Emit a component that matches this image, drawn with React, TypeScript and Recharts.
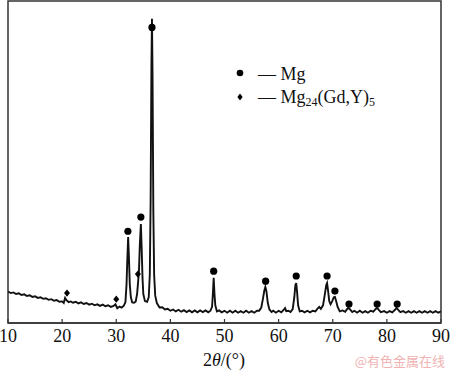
import { ComposedChart, Line, Scatter, XAxis, YAxis, ReferenceArea } from "recharts"

// diffraction angle (2θ, deg) and intensity (a.u.)
const twoTheta = [
  10, 10.5, 11, 11.5, 12, 12.5, 13, 13.5, 14, 14.5, 15, 15.5, 16, 16.5, 17, 17.5, 18, 18.5, 19, 19.5,
  20, 20.3, 20.55, 20.8, 21.2, 21.6, 22, 22.5, 23, 23.5, 24, 24.5, 25, 25.5, 26, 26.5, 27, 27.5, 28, 28.5,
  29, 29.5, 29.85, 30.2, 30.6, 31, 31.4, 31.7, 31.9, 32.05, 32.2, 32.35, 32.5, 32.7, 32.95, 33.3, 33.6, 33.85, 34.05, 34.2,
  34.35, 34.55, 34.7, 34.85, 35, 35.3, 35.7, 36, 36.2, 36.35, 36.5, 36.6, 36.7, 36.85, 37, 37.2, 37.5, 38, 38.5, 39,
  39.5, 40, 40.5, 41, 41.5, 42, 42.5, 43, 43.5, 44, 44.5, 45, 45.5, 46, 46.5, 47, 47.4, 47.7, 47.85, 48,
  48.15, 48.3, 48.6, 49, 49.5, 50, 50.5, 51, 51.5, 52, 52.5, 53, 53.5, 54, 54.5, 55, 55.5, 56, 56.4, 56.8,
  57.1, 57.35, 57.55, 57.75, 58, 58.3, 58.7, 59, 59.5, 60, 60.5, 61, 61.2, 61.4, 61.8, 62.2, 62.6, 62.9, 63.1, 63.25,
  63.4, 63.6, 63.9, 64.3, 64.8, 65.3, 65.8, 66.3, 66.8, 67.2, 67.5, 67.8, 68.2, 68.5, 68.8, 68.95, 69.1, 69.35, 69.6, 69.9,
  70.2, 70.4, 70.6, 70.9, 71.3, 71.8, 72.3, 72.6, 72.9, 73.2, 73.6, 74, 74.5, 75, 75.5, 76, 76.5, 77, 77.5, 77.9,
  78.2, 78.5, 78.9, 79.5, 80, 80.5, 81, 81.5, 81.8, 82.1, 82.5, 83, 83.5, 84, 84.5, 85, 85.5, 86, 86.5, 87,
  87.5, 88, 88.5, 89, 89.5, 90,
]
const counts = [
  98, 93, 95, 90, 92, 87, 89, 84, 86, 81, 83, 78, 80, 75, 77, 72, 74, 69, 71, 66,
  67, 62, 78, 71, 65, 67, 63, 66, 61, 64, 59, 62, 57, 60, 55, 58, 53, 57, 52, 55,
  50, 53, 58, 46, 51, 48, 54, 65, 120, 200, 267, 200, 120, 80, 64, 63, 67, 90, 130, 165,
  240, 307, 230, 140, 90, 68, 66, 80, 150, 380, 800, 945, 780, 350, 150, 85, 62, 48, 49, 42,
  44, 38, 42, 36, 41, 35, 40, 34, 39, 33, 39, 33, 39, 34, 39, 33, 38, 50, 90, 140,
  90, 55, 36, 39, 33, 38, 32, 38, 32, 38, 32, 37, 32, 38, 32, 37, 32, 38, 38, 48,
  75, 100, 112, 98, 62, 42, 34, 38, 32, 38, 33, 42, 46, 37, 38, 34, 43, 80, 118, 124,
  98, 55, 36, 38, 33, 38, 33, 38, 36, 45, 50, 44, 55, 85, 118, 124, 105, 68, 58, 68,
  80, 81, 70, 50, 36, 39, 35, 42, 47, 42, 34, 38, 32, 38, 32, 37, 32, 38, 35, 43,
  47, 41, 34, 37, 32, 37, 33, 41, 47, 41, 34, 37, 32, 37, 32, 37, 32, 37, 32, 37,
  32, 37, 32, 37, 32, 36,
]

// phase markers
const mgPos = [32.15, 34.55, 36.6, 48.0, 57.6, 63.25, 68.95, 70.4, 73.0, 78.2, 81.9]
const mgMark = [285, 329, 918, 161, 130, 146, 146, 99, 59, 59, 59]
const phasePos = [20.9, 30.0, 34.0]
const phaseMark = [93, 74, 152]

const xTicks = [10, 20, 30, 40, 50, 60, 70, 80, 90]

const pattern = twoTheta.map((x, i) => ({ x, y: counts[i] }))
const mgPoints = mgPos.map((x, i) => ({ x, y: mgMark[i] }))
const phasePoints = phasePos.map((x, i) => ({ x, y: phaseMark[i] }))

const serif = "Liberation Serif"

const DotMark = (p: any) => <circle cx={p.cx} cy={p.cy} r={3.6} fill="#000" />
const DiamondMark = (p: any) => (
  <polygon
    points={`${p.cx},${p.cy - 3.6} ${p.cx + 3},${p.cy} ${p.cx},${p.cy + 3.6} ${p.cx - 3},${p.cy}`}
    fill="#000"
  />
)

function AxisTick({ x, y, payload }: any) {
  return (
    <g>
      <line x1={x} x2={x} y1={y} y2={y - 4} stroke="#333" strokeWidth={1.2} />
      <text x={x} y={y + 19} textAnchor="middle" style={{ fontFamily: serif }} fontSize={18} fill="#111">
        {payload.value}
      </text>
    </g>
  )
}

export default function App() {
  return (
    <div style={{ position: "absolute", left: 0, top: 0, width: 450, height: 371, background: "#fff" }}>
      <ComposedChart width={450} height={371} margin={{ top: 1, right: 9, left: 8, bottom: 0 }}>
        <XAxis
          dataKey="x"
          type="number"
          domain={[10, 90]}
          ticks={xTicks}
          height={48}
          tickSize={0}
          tickMargin={0}
          tickLine={false}
          tick={(props: any) => <AxisTick {...props} />}
          stroke="#333"
          strokeWidth={1.5}
          allowDataOverflow
        />
        <YAxis dataKey="y" type="number" domain={[0, 1000]} hide width={0} allowDataOverflow />
        <ReferenceArea x1={10} x2={90} y1={0} y2={1000} fill="none" stroke="#333" strokeWidth={1.5} />
        <Line
          data={pattern}
          dataKey="y"
          type="linear"
          stroke="#111"
          strokeWidth={1.9}
          dot={false}
          activeDot={false}
          isAnimationActive={false}
        />
        <Scatter data={mgPoints} dataKey="y" shape={<DotMark />} isAnimationActive={false} />
        <Scatter data={phasePoints} dataKey="y" shape={<DiamondMark />} isAnimationActive={false} />
      </ComposedChart>

      <svg width={450} height={371} style={{ position: "absolute", left: 0, top: 0, pointerEvents: "none" }}>
        {/* legend */}
        <circle cx={240} cy={73} r={3.3} fill="#000" />
        <polygon points="240,93.5 242.6,97 240,100.5 237.4,97" fill="#000" />
        <text style={{ fontFamily: serif }} fontSize={18} fill="#111">
          <tspan x={258} y={80}>— Mg</tspan>
          <tspan x={258} y={103}>— Mg</tspan>
          <tspan fontSize={12} dy={3}>24</tspan>
          <tspan dy={-3}>(Gd,Y)</tspan>
          <tspan fontSize={12} dy={3}>5</tspan>
        </text>
        {/* axis title */}
        <text x={224} y={366} textAnchor="middle" style={{ fontFamily: serif }} fontSize={18} fill="#111">
          2<tspan fontStyle="italic">θ</tspan>/(°)
        </text>
        <text x={445} y={366} textAnchor="end" style={{ fontFamily: "Noto Sans CJK SC" }} fontSize={13} fill="#efb3b3">
          @有色金属在线
        </text>
      </svg>
    </div>
  )
}
